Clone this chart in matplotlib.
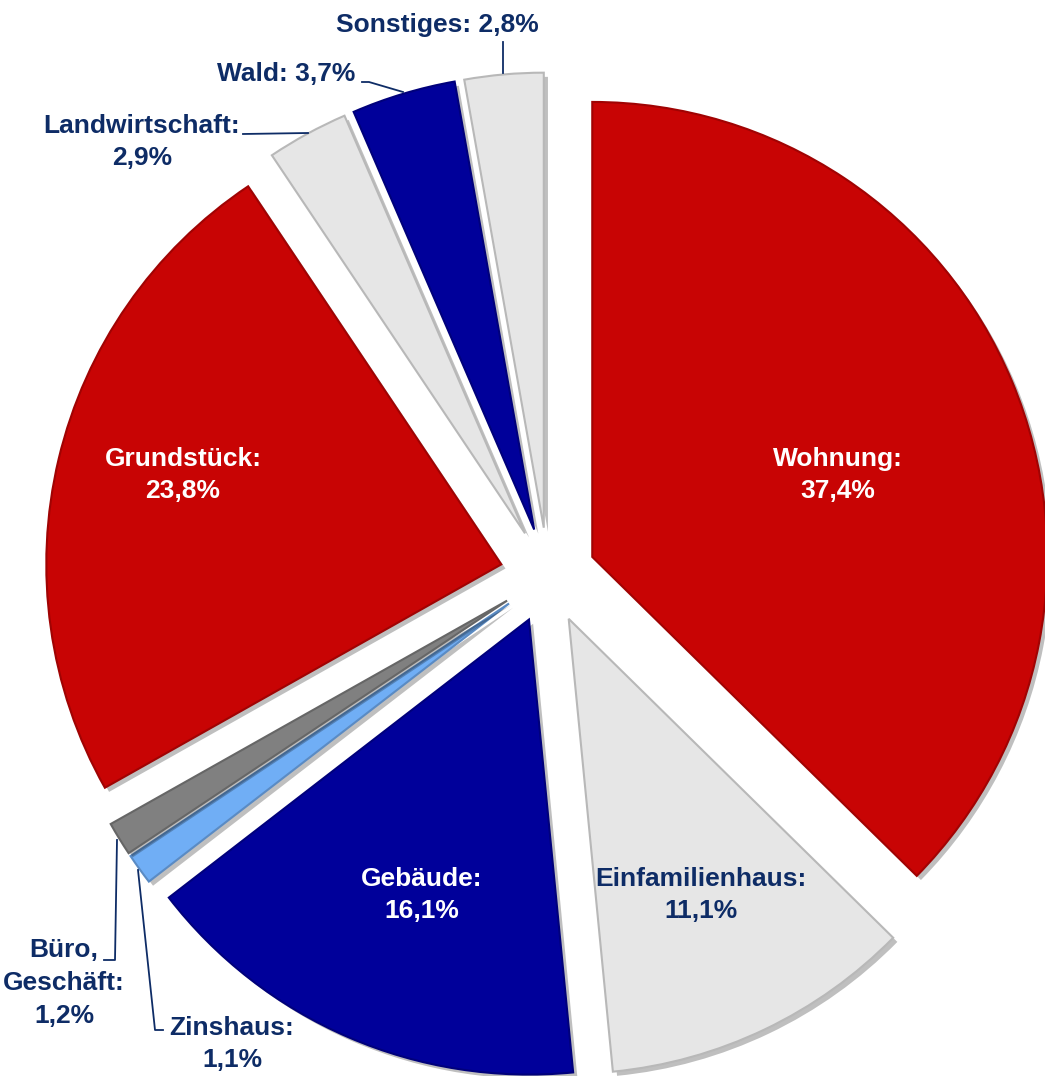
import matplotlib
matplotlib.use("Agg")
import matplotlib.pyplot as plt
import matplotlib.patheffects as pe
from matplotlib.colors import to_rgb

W, H = 1045, 1076

categories = ["Wohnung", "Einfamilienhaus", "Gebäude", "Zinshaus", "Büro, Geschäft",
              "Grundstück", "Landwirtschaft", "Wald", "Sonstiges"]
shares = [37.4, 11.1, 16.1, 1.1, 1.2, 23.8, 2.9, 3.7, 2.8]
labels = ["Wohnung:\n37,4%", "Einfamilienhaus:\n11,1%", "Gebäude:\n16,1%",
          "Zinshaus:\n1,1%", "Büro,\nGeschäft:\n1,2%", "Grundstück:\n23,8%",
          "Landwirtschaft:\n2,9%", "Wald: 3,7%", "Sonstiges: 2,8%"]

RED, BLUE, LGREY = "#C80404", "#00009A", "#E6E6E6"
colors = [RED, LGREY, BLUE, "#70AEF5", "#808080", RED, LGREY, BLUE, LGREY]
NAVY = "#0E2C66"

# label layout in pixel coords (x, y from top), text colour
label_pos = [(838, 475, "white"), (701, 895, NAVY), (422, 895, "white"),
             (232, 1044, NAVY), (64, 983, NAVY), (183, 475, "white"),
             (142, 142, NAVY), (286, 74, NAVY), (437, 25, NAVY)]

# leader lines (pixel coords)
leaders = {
    "Sonstiges": [(503, 42), (503, 73)],
    "Wald": [(362, 82), (369, 82), (403, 92)],
    "Landwirtschaft": [(243, 134), (308, 133)],
    "Büro, Geschäft": [(104, 960), (115, 960), (117, 840)],
    "Zinshaus": [(163, 1030), (155, 1030), (138, 870)],
}

FONT = ["Liberation Sans Narrow", "Liberation Sans", "DejaVu Sans"]


def darker(c, f=0.75):
    r, g, b = to_rgb(c)
    return (r * f, g * f, b * f)


fig = plt.figure(figsize=(W / 100, H / 100), dpi=100)
ax = fig.add_axes([0, 0, 1, 1])

wedges, _ = ax.pie(shares, colors=colors, startangle=90, counterclock=False,
                   explode=[48] * len(shares), radius=455,
                   center=(548, H - 575.5), normalize=True)
for w, c in zip(wedges, colors):
    w.set_edgecolor(darker(c, 0.8))
    w.set_linewidth(1.5)
    w.set_path_effects([pe.SimplePatchShadow(offset=(3, -3), alpha=0.25, shadow_rgbFace="k"),
                        pe.Normal()])

for txt, (x, y, col) in zip(labels, label_pos):
    ax.text(x, H - y, txt, ha="center", va="center", color=col, fontsize=19,
            fontweight="bold", family=FONT, linespacing=1.45)

for pts in leaders.values():
    xs = [p[0] for p in pts]
    ys = [H - p[1] for p in pts]
    ax.plot(xs, ys, color=NAVY, lw=1.3)

ax.set_xlim(0, W)
ax.set_ylim(0, H)
ax.set_aspect("auto")
ax.axis("off")

fig.savefig("out.png", dpi=100)
